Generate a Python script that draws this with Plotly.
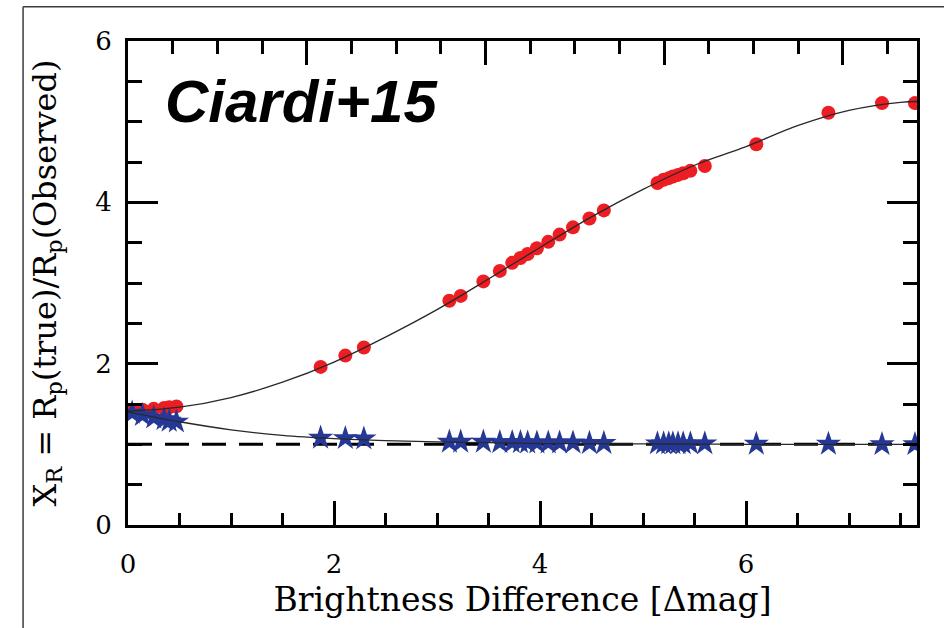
import plotly.graph_objects as go

# ---- data ----
dmag = [0.04, 0.14, 0.25, 0.35, 0.40, 0.47,
        1.87, 2.11, 2.29,
        3.12, 3.23, 3.45, 3.61, 3.73, 3.81, 3.88, 3.97, 4.08, 4.19, 4.32, 4.48, 4.62,
        5.14, 5.20, 5.25, 5.29, 5.34, 5.39, 5.46, 5.60,
        6.10, 6.80, 7.32, 7.64]
xr_primary = [1.43, 1.43, 1.44, 1.45, 1.46, 1.47,
              1.96, 2.10, 2.20,
              2.78, 2.84, 3.02, 3.15, 3.25, 3.31, 3.36, 3.43, 3.51, 3.60, 3.69, 3.80, 3.90,
              4.24, 4.28, 4.30, 4.32, 4.34, 4.36, 4.39, 4.45,
              4.72, 5.11, 5.23, 5.23]
xr_secondary = [1.39, 1.36, 1.33, 1.31, 1.29, 1.28,
                1.08, 1.075, 1.07,
                1.03, 1.03, 1.03, 1.025, 1.025, 1.025, 1.02, 1.02, 1.02, 1.02, 1.02, 1.015, 1.015,
                1.01, 1.01, 1.01, 1.01, 1.01, 1.01, 1.01, 1.01,
                1.005, 1.005, 1.0, 1.0]

fit_x = [0.0, 0.5, 1.0, 1.5, 2.0, 2.5, 3.0, 3.5, 4.0, 4.5, 5.0, 5.5, 6.0, 6.5, 7.0, 7.5, 7.66]
fit_primary = [1.41, 1.46, 1.58, 1.77, 2.02, 2.33, 2.67, 3.05, 3.44, 3.82, 4.16, 4.46, 4.69, 4.95, 5.14, 5.24, 5.25]
fit_secondary = [1.40, 1.28, 1.18, 1.11, 1.07, 1.045, 1.03, 1.02, 1.01, 1.007, 1.005, 1.003, 1.0, 1.0, 1.0, 1.0, 1.0]

ref_x = [0.0, 7.66]
ref_y = [1.0, 1.0]

x_ticks = [0, 2, 4, 6]
y_ticks = [0, 2, 4, 6]

RED = "rgb(236,30,36)"
BLUE = "rgb(38,56,150)"
SERIF = "DejaVu Serif"

fig = go.Figure()

fig.add_trace(go.Scatter(x=ref_x, y=ref_y, mode="lines",
                         line=dict(color="black", width=3, dash="24px,13px"),
                         showlegend=False, hoverinfo="skip"))
fig.add_trace(go.Scatter(x=dmag, y=xr_primary, mode="markers",
                         marker=dict(symbol="circle", size=14, color=RED, line=dict(width=0)),
                         showlegend=False))
fig.add_trace(go.Scatter(x=dmag, y=xr_secondary, mode="markers",
                         marker=dict(symbol="star", size=19, color=BLUE, line=dict(width=0)),
                         showlegend=False))
fig.add_trace(go.Scatter(x=fit_x, y=fit_primary, mode="lines",
                         line=dict(color="rgb(40,40,40)", width=1.3, shape="spline"),
                         showlegend=False, hoverinfo="skip"))
fig.add_trace(go.Scatter(x=fit_x, y=fit_secondary, mode="lines",
                         line=dict(color="rgb(40,40,40)", width=1.3, shape="spline"),
                         showlegend=False, hoverinfo="skip"))
# empty trace to activate the mirror axes
fig.add_trace(go.Scatter(x=[], y=[], xaxis="x2", yaxis="y2", showlegend=False))

fig.update_layout(
    width=944, height=628,
    margin=dict(l=128, r=27, t=41, b=103),
    paper_bgcolor="white", plot_bgcolor="white",
    font=dict(family=SERIF, color="black"),
    xaxis=dict(range=[0, 7.66], tickvals=x_ticks, ticktext=[str(v) for v in x_ticks],
               showgrid=False, zeroline=False, showline=True, linecolor="black", linewidth=3,
               ticks="inside", ticklen=24, tickwidth=3, tickcolor="black",
               minor=dict(dtick=0.5, ticks="inside", ticklen=12, tickwidth=3, tickcolor="black", showgrid=False),
               tickfont=dict(family=SERIF, size=26), ticklabelstandoff=14,
               title=dict(text="Brightness Difference [Δmag]", font=dict(family=SERIF, size=33), standoff=10)),
    yaxis=dict(range=[0, 6], tickvals=y_ticks, ticktext=[str(v) for v in y_ticks],
               showgrid=False, zeroline=False, showline=True, linecolor="black", linewidth=3,
               ticks="inside", ticklen=30, tickwidth=3, tickcolor="black",
               minor=dict(dtick=0.5, ticks="inside", ticklen=14, tickwidth=3, tickcolor="black", showgrid=False),
               tickfont=dict(family=SERIF, size=26), ticklabelstandoff=8,
               title=dict(text="X<sub>R</sub> = R<sub>p</sub>(true)/R<sub>p</sub>(Observed)",
                          font=dict(family=SERIF, size=32), standoff=30)),
    xaxis2=dict(overlaying="x", side="top", anchor="y", range=[0, 17.66], dtick=4,
                showticklabels=False, showgrid=False, zeroline=False, showline=True,
                linecolor="black", linewidth=3, ticks="inside", ticklen=24, tickwidth=3, tickcolor="black",
                minor=dict(dtick=1, ticks="inside", ticklen=13, tickwidth=3, tickcolor="black", showgrid=False)),
    yaxis2=dict(overlaying="y", side="right", anchor="x", range=[0, 6], dtick=2,
                showticklabels=False, showgrid=False, zeroline=False, showline=True,
                linecolor="black", linewidth=3, ticks="inside", ticklen=30, tickwidth=3, tickcolor="black",
                minor=dict(dtick=0.5, ticks="inside", ticklen=14, tickwidth=3, tickcolor="black", showgrid=False)),
    annotations=[dict(text="<b><i>Ciardi+15</i></b>", xref="paper", yref="paper",
                      x=0.22, y=0.876, xanchor="center", yanchor="middle", showarrow=False,
                      font=dict(family="Liberation Sans", size=60, color="black"))],
    shapes=[
        dict(type="line", xref="paper", yref="paper", x0=-0.133, x1=1.1, y0=1.071, y1=1.071,
             line=dict(color="rgb(60,60,60)", width=1.5)),
        dict(type="line", xref="paper", yref="paper", x0=-0.133, x1=-0.133, y0=1.071, y1=-0.3,
             line=dict(color="rgb(60,60,60)", width=1.5)),
    ],
)

fig.write_html("out.html")
